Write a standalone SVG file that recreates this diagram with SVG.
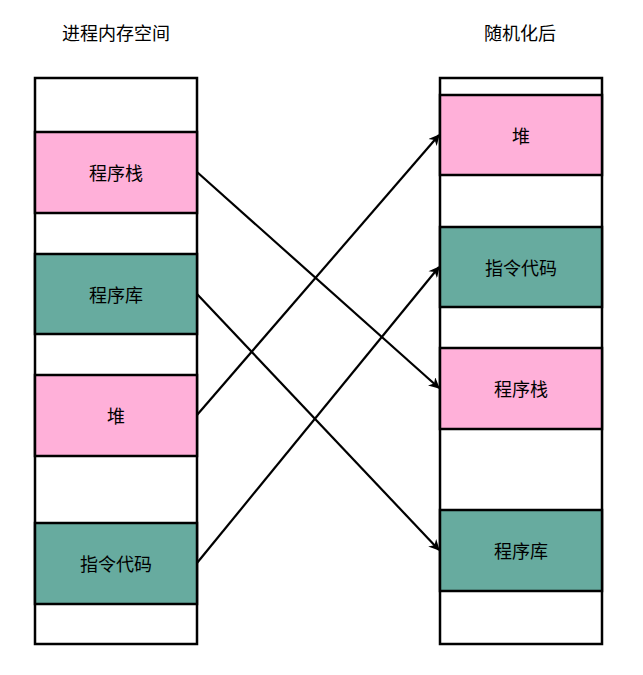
<svg xmlns="http://www.w3.org/2000/svg" width="643" height="675" viewBox="0 0 643 675">
<defs>
<style>
text{font-family:"Noto Sans CJK SC","Noto Sans",sans-serif;font-size:18px;fill:#000;text-anchor:middle;dominant-baseline:central}
.w{fill:#fff;stroke:#000;stroke-width:2.5}
.p{fill:#FFB0D9;stroke:#000;stroke-width:2.5}
.t{fill:#67AB9F;stroke:#000;stroke-width:2.5}
.c{stroke:#000;stroke-width:2.2;fill:none;marker-end:url(#a)}
</style>
<marker id="a" viewBox="0 0 10 10" refX="9" refY="5" markerWidth="13" markerHeight="11" orient="auto" markerUnits="userSpaceOnUse"><path d="M0,0 L10,5 L0,10 L3,5 z" fill="#000"/></marker>
</defs>
<rect width="643" height="675" fill="#fff"/>
<g id="title-left"><text x="116" y="32">进程内存空间</text></g>
<g id="title-right"><text x="520" y="32">随机化后</text></g>
<g id="left-column">
<rect class="w" x="35" y="78" width="162" height="566"/>
</g>
<g id="l-stack"><rect class="p" x="35" y="132" width="162" height="81"/><text x="116" y="172">程序栈</text></g>
<g id="l-lib"><rect class="t" x="35" y="254" width="162" height="80"/><text x="116" y="294">程序库</text></g>
<g id="l-heap"><rect class="p" x="35" y="375" width="162" height="81"/><text x="116" y="415">堆</text></g>
<g id="l-code"><rect class="t" x="35" y="523" width="162" height="81"/><text x="116" y="563">指令代码</text></g>
<g id="right-column">
<rect class="w" x="440" y="78" width="162" height="566"/>
</g>
<g id="r-heap"><rect class="p" x="440" y="95" width="162" height="80"/><text x="521" y="135">堆</text></g>
<g id="r-code"><rect class="t" x="440" y="227" width="162" height="80"/><text x="521" y="267">指令代码</text></g>
<g id="r-stack"><rect class="p" x="440" y="348" width="162" height="81"/><text x="521" y="388">程序栈</text></g>
<g id="r-lib"><rect class="t" x="440" y="510" width="162" height="81"/><text x="521" y="550">程序库</text></g>
<g id="connectors">
<line class="c" x1="197" y1="172" x2="439" y2="388"/>
<line class="c" x1="197" y1="294" x2="439" y2="550"/>
<line class="c" x1="197" y1="415" x2="439" y2="135"/>
<line class="c" x1="197" y1="563" x2="439" y2="267"/>
</g>
</svg>
